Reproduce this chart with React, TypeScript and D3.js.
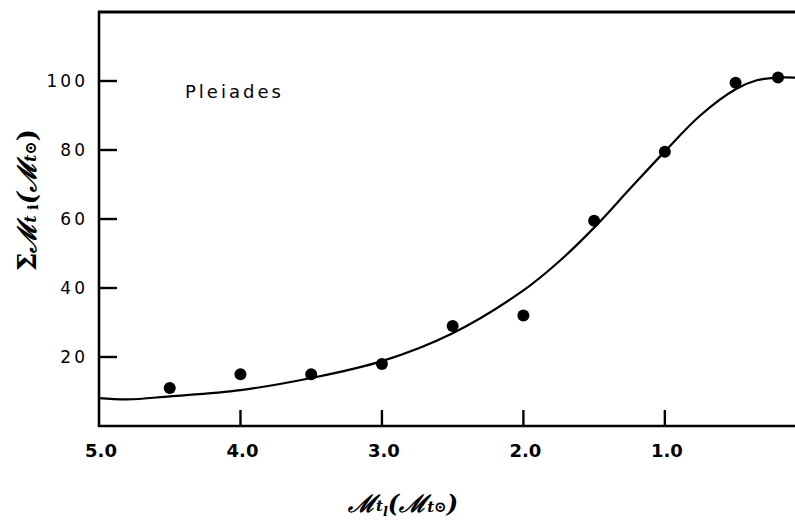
import React from "react";
import * as d3 from "d3";

const pointMass = [4.5, 4.0, 3.5, 3.0, 2.5, 2.0, 1.5, 1.0, 0.5, 0.2];
const pointCum = [11, 15, 15, 18, 29, 32, 59.5, 79.5, 99.5, 101];

const curveMass = [5.0, 4.8, 4.5, 4.0, 3.5, 3.0, 2.5, 2.0, 1.75, 1.5, 1.25, 1.0, 0.75, 0.5, 0.35, 0.2, 0.08];
const curveCum = [8.1, 7.7, 8.6, 10.4, 13.9, 18.8, 26.9, 39.3, 47.6, 57.5, 68.6, 79.6, 90.0, 97.6, 100.2, 101, 101];

const xTicks = [5.0, 4.0, 3.0, 2.0, 1.0];
const yTicks = [20, 40, 60, 80, 100];

const W = 795;
const H = 529;

export default function App() {
  const x = d3.scaleLinear().domain([5, 0.08]).range([99, 795]);
  const y = d3.scaleLinear().domain([0, 120]).range([426, 12]);

  const curveData = curveMass.map((m, i) => [m, curveCum[i]] as [number, number]);
  const line = d3
    .line<[number, number]>()
    .x((d) => x(d[0]))
    .y((d) => y(d[1]))
    .curve(d3.curveCatmullRom.alpha(0.5));

  const tickFont = "'DejaVu Sans', sans-serif";

  return (
    <div style={{ position: "absolute", left: 0, top: 0 }}>
      <svg width={W} height={H} style={{ display: "block", background: "#fff" }}>
        {/* frame */}
        <line x1={x(5)} x2={x(5)} y1={y(120) - 1} y2={y(0) + 1} stroke="#000" strokeWidth={2.6} />
        <line x1={x(5) - 1} x2={W} y1={y(0)} y2={y(0)} stroke="#000" strokeWidth={2.6} />
        <line x1={x(5) - 1} x2={W} y1={y(120)} y2={y(120)} stroke="#000" strokeWidth={2.8} />

        {/* y ticks */}
        {yTicks.map((t) => (
          <g key={"y" + t}>
            <line x1={x(5)} x2={x(5) + 18} y1={y(t)} y2={y(t)} stroke="#000" strokeWidth={2.4} />
            <text
              x={88}
              y={y(t)}
              dy="0.36em"
              textAnchor="end"
              fontFamily={tickFont}
              fontSize={17}
              fontWeight={500}
              letterSpacing={3}
              fill="#000"
            >
              {t}
            </text>
          </g>
        ))}

        {/* x ticks */}
        {xTicks.map((t) => (
          <g key={"x" + t}>
            {t !== 5 && (
              <line x1={x(t)} x2={x(t)} y1={y(0)} y2={y(0) - 16} stroke="#000" strokeWidth={2.4} />
            )}
            <text
              x={x(t) + 2}
              y={457}
              textAnchor="middle"
              fontFamily={tickFont}
              fontSize={18}
              fontWeight={600}
              fill="#000"
            >
              {t.toFixed(1)}
            </text>
          </g>
        ))}

        {/* fitted curve */}
        <path d={line(curveData) || ""} fill="none" stroke="#000" strokeWidth={2.2} />

        {/* data points */}
        {pointMass.map((m, i) => (
          <circle key={"p" + i} cx={x(m)} cy={y(pointCum[i])} r={6} fill="#000" />
        ))}

        {/* cluster label */}
        <text
          x={185}
          y={98}
          fontFamily={tickFont}
          fontSize={18}
          fontWeight={500}
          letterSpacing={3}
          fill="#000"
        >
          Pleiades
        </text>

        {/* x axis label */}
        <text
          x={403}
          y={512}
          textAnchor="middle"
          fontFamily="'DejaVu Serif', serif"
          fontSize={24}
          fontStyle="italic"
          fontWeight={700}
          fill="#000"
        >
          ℳ
          <tspan fontSize={15} dy={-1}>t</tspan>
          <tspan fontSize={13} dy={5}>l</tspan>
          <tspan dy={-4}>(ℳ</tspan>
          <tspan fontSize={15}>t⊙</tspan>
          <tspan>)</tspan>
        </text>

        {/* y axis label */}
        <text
          transform={`translate(36, 200) rotate(-90)`}
          textAnchor="middle"
          fontFamily="'DejaVu Serif', serif"
          fontSize={26}
          fontWeight={700}
          fill="#000"
        >
          Σ
          <tspan fontStyle="italic">ℳ</tspan>
          <tspan fontSize={16} fontStyle="italic">t</tspan>
          <tspan fontSize={15} dy={2}> i</tspan>
          <tspan dy={-2} fontStyle="italic">(ℳ</tspan>
          <tspan fontSize={16} fontStyle="italic">t⊙</tspan>
          <tspan>)</tspan>
        </text>
      </svg>
    </div>
  );
}
